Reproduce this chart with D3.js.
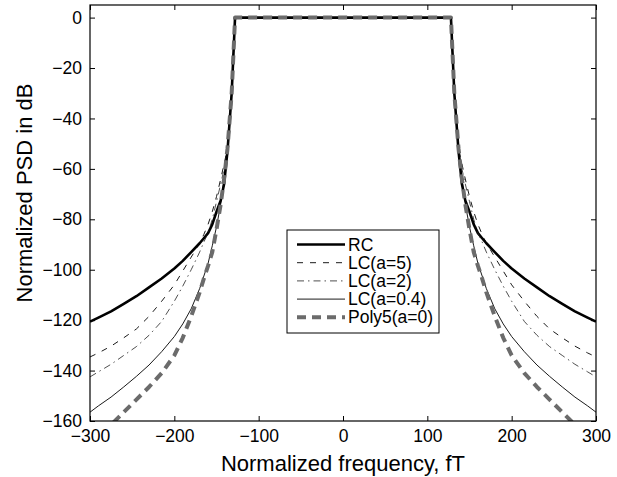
<!DOCTYPE html>
<html>
<head>
<meta charset="utf-8">
<script src="https://cdn.jsdelivr.net/npm/d3@7"></script>
<style>
  body { margin: 0; background: #fff; }
  text { font-family: "Liberation Sans", Arial, sans-serif; }
</style>
</head>
<body>
<svg id="chart" width="617" height="477"></svg>
<script>
var freq = [-300,-290,-275,-260,-245,-230,-215,-200,-190,-180,-170,-165,-160,-155,-150,-145,-141,-137,-132,-128,
  128,132,137,141,145,150,155,160,165,170,180,190,200,215,230,245,260,275,290,300]

var rc = [-120.6,-119,-116.5,-113.5,-110.5,-107,-103.5,-99.5,-96.5,-93,-89.5,-87.5,-85.5,-82,-77,-72.5,-66,-53,-30,0,
  0,-30,-53,-66,-72.5,-77,-82,-85.5,-87.5,-89.5,-93,-96.5,-99.5,-103.5,-107,-110.5,-113.5,-116.5,-119,-120.6]

var lc5 = [-134.6,-133,-130.3,-127,-123.5,-118.5,-112.5,-106,-100.5,-95,-89.5,-86,-82,-77,-71,-64,-58,-52,-30,0,
  0,-30,-52,-58,-64,-71,-77,-82,-86,-89.5,-95,-100.5,-106,-112.5,-118.5,-123.5,-127,-130.3,-133,-134.6]

var lc2 = [-142.5,-140.5,-137.5,-134,-130.5,-126,-120.5,-112.5,-106.5,-100,-93,-89,-85.5,-80,-73,-66,-60,-52,-30,0,
  0,-30,-52,-60,-66,-73,-80,-85.5,-89,-93,-100,-106.5,-112.5,-120.5,-126,-130.5,-134,-137.5,-140.5,-142.5]

var lc04 = [-156.5,-154,-150.5,-146.5,-142.3,-137.8,-132.5,-126.5,-121.5,-115.5,-107.5,-102.5,-97.5,-90.5,-83,-74,-64,-52,-30,0,
  0,-30,-52,-64,-74,-83,-90.5,-97.5,-102.5,-107.5,-115.5,-121.5,-126.5,-132.5,-137.8,-142.3,-146.5,-150.5,-154,-156.5]

var poly5 = [-168,-165,-161.5,-156.5,-151.5,-146.5,-141,-134,-127,-118.5,-109,-103.5,-98.5,-93,-84,-74,-64,-52,-30,0,
  0,-30,-52,-64,-74,-84,-93,-98.5,-103.5,-109,-118.5,-127,-134,-141,-146.5,-151.5,-156.5,-161.5,-165,-168]

var xTicks = [-300,-200,-100,0,100,200,300]
var yTicks = [0,-20,-40,-60,-80,-100,-120,-140,-160]

var series = [
  {name: "RC", values: rc, color: "#000", width: 2.6, dash: null},
  {name: "LC(a=5)", values: lc5, color: "#000", width: 0.9, dash: "6,7"},
  {name: "LC(a=2)", values: lc2, color: "#222", width: 0.8, dash: "7,4,1.5,4"},
  {name: "LC(a=0.4)", values: lc04, color: "#000", width: 0.9, dash: null},
  {name: "Poly5(a=0)", values: poly5, color: "#6b6b6b", width: 4, dash: "9,6"}
]

var plotL = 90, plotR = 596, plotT = 5, plotB = 421

var svg = d3.select("#chart")

var x = d3.scaleLinear().domain([-300, 300]).range([plotL, plotR])
var y = d3.scaleLinear().domain([-160, 5]).range([plotB, plotT])

var fmt = d => d < 0 ? "\u2212" + Math.abs(d) : String(d)

svg.append("clipPath").attr("id", "plot")
  .append("rect")
  .attr("x", plotL).attr("y", plotT)
  .attr("width", plotR - plotL).attr("height", plotB - plotT)

var line = d3.line()
  .x((d, i) => x(freq[i]))
  .y(d => y(d))

svg.append("g")
  .attr("clip-path", "url(#plot)")
  .selectAll("path")
  .data(series)
  .enter()
  .append("path")
  .attr("d", d => line(d.values))
  .attr("fill", "none")
  .attr("stroke", d => d.color)
  .attr("stroke-width", d => d.width)
  .attr("stroke-dasharray", d => d.dash)
  .attr("stroke-linejoin", "round")

// axes with inward ticks on all four sides
var bottomAxis = d3.axisBottom(x).tickValues(xTicks).tickSize(-5).tickPadding(9).tickFormat(fmt)
var topAxis = d3.axisTop(x).tickValues(xTicks).tickSize(-5).tickFormat("")
var leftAxis = d3.axisLeft(y).tickValues(yTicks).tickSize(-5).tickPadding(8).tickFormat(fmt)
var rightAxis = d3.axisRight(y).tickValues(yTicks).tickSize(-5).tickFormat("")

svg.append("g").attr("transform", `translate(0,${plotB})`).call(bottomAxis)
svg.append("g").attr("transform", `translate(0,${plotT})`).call(topAxis)
svg.append("g").attr("transform", `translate(${plotL},0)`).call(leftAxis)
svg.append("g").attr("transform", `translate(${plotR},0)`).call(rightAxis)

svg.selectAll(".domain").remove()
svg.selectAll(".tick line").attr("stroke", "#000").attr("stroke-width", 1)
svg.selectAll(".tick text").attr("font-size", 17.5).attr("fill", "#000")
  .attr("font-family", "'Liberation Sans', Arial, sans-serif")

svg.append("rect")
  .attr("x", plotL).attr("y", plotT)
  .attr("width", plotR - plotL).attr("height", plotB - plotT)
  .attr("fill", "none").attr("stroke", "#000").attr("stroke-width", 1.2)

svg.append("text")
  .attr("x", (plotL + plotR) / 2).attr("y", 471)
  .attr("text-anchor", "middle").attr("font-size", 22)
  .text("Normalized frequency, fT")

svg.append("text")
  .attr("transform", "translate(31.5,193) rotate(-90)")
  .attr("text-anchor", "middle").attr("font-size", 22)
  .text("Normalized PSD in dB")

// legend
var legend = svg.append("g")

legend.append("rect")
  .attr("x", 287).attr("y", 230)
  .attr("width", 152).attr("height", 103)
  .attr("fill", "#fff").attr("stroke", "#000").attr("stroke-width", 1)

var item = legend.selectAll(".item")
  .data(series)
  .enter()
  .append("g")
  .attr("class", "item")
  .attr("transform", (d, i) => `translate(0,${244.5 + i * 18.2})`)

item.append("line")
  .attr("x1", 297).attr("x2", 345)
  .attr("stroke", d => d.color)
  .attr("stroke-width", d => d.width)
  .attr("stroke-dasharray", d => d.dash)

item.append("text")
  .attr("x", 348).attr("dy", "0.35em")
  .attr("font-size", 17.5)
  .text(d => d.name)
</script>
</body>
</html>
